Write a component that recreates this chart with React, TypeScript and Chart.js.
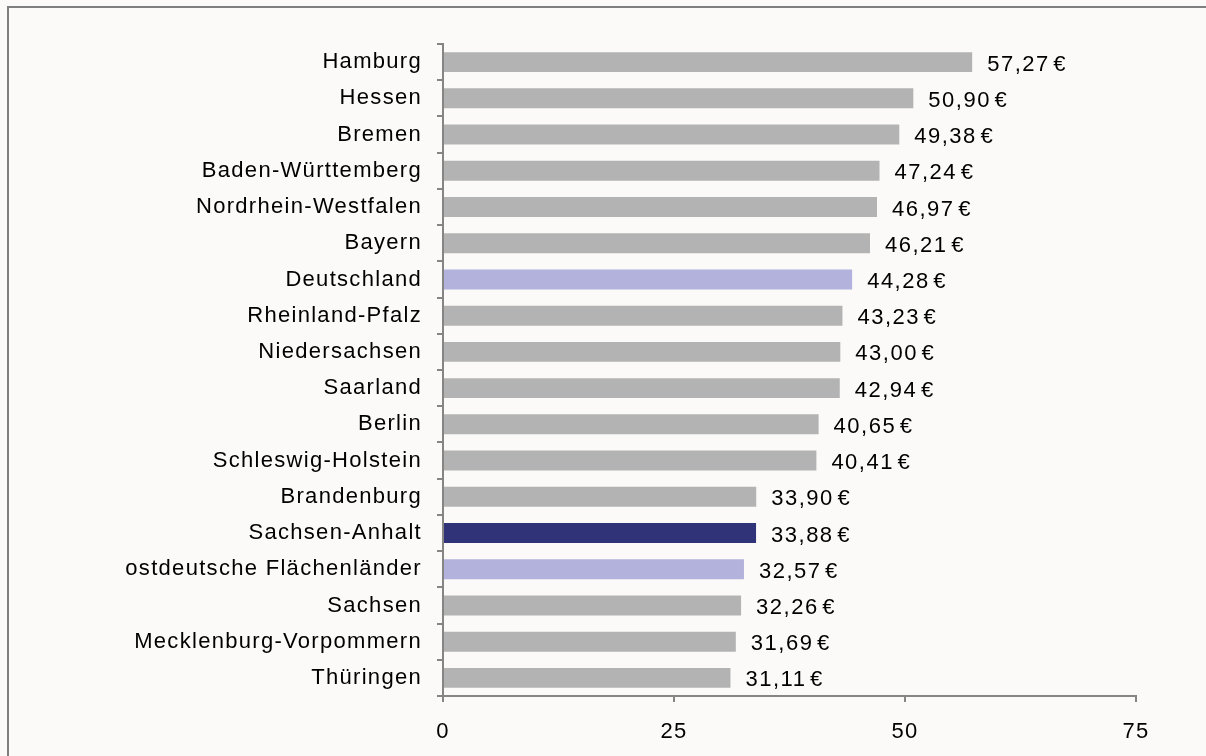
import React, { useEffect, useRef } from "react";
import { Chart, registerables } from "chart.js";

Chart.register(...registerables);

const categories = [
  "Hamburg",
  "Hessen",
  "Bremen",
  "Baden-Württemberg",
  "Nordrhein-Westfalen",
  "Bayern",
  "Deutschland",
  "Rheinland-Pfalz",
  "Niedersachsen",
  "Saarland",
  "Berlin",
  "Schleswig-Holstein",
  "Brandenburg",
  "Sachsen-Anhalt",
  "ostdeutsche Flächenländer",
  "Sachsen",
  "Mecklenburg-Vorpommern",
  "Thüringen",
];

const values = [
  57.27, 50.9, 49.38, 47.24, 46.97, 46.21, 44.28, 43.23, 43.0, 42.94, 40.65,
  40.41, 33.9, 33.88, 32.57, 32.26, 31.69, 31.11,
];

const xTicks = [0, 25, 50, 75];

const GRAY = "#b3b3b3";
const LAVENDER = "#b2b2dc";
const NAVY = "#313379";

const barColors = categories.map((c) =>
  c === "Sachsen-Anhalt"
    ? NAVY
    : c === "Deutschland" || c === "ostdeutsche Flächenländer"
    ? LAVENDER
    : GRAY
);

const FONT = "'Liberation Sans', Arial, sans-serif";
const LS = "1.3px";

const spacingPlugin = {
  id: "spacing",
  beforeUpdate(chart: any) {
    chart.ctx.letterSpacing = LS;
  },
  beforeLayout(chart: any) {
    chart.ctx.letterSpacing = LS;
  },
  beforeDraw(chart: any) {
    const ctx = chart.ctx;
    ctx.save();
    ctx.fillStyle = "#fbfaf8";
    ctx.fillRect(0, 0, chart.width, chart.height);
    ctx.fillStyle = "#7f7f7f";
    ctx.fillRect(7, 6, 2, chart.height - 6);
    ctx.fillRect(7, 6, chart.width - 7, 2);
    ctx.restore();
    ctx.letterSpacing = LS;
  },
};

const valueLabelPlugin = {
  id: "valueLabels",
  afterDatasetsDraw(chart: any) {
    const ctx = chart.ctx;
    const meta = chart.getDatasetMeta(0);
    ctx.save();
    ctx.font = `22px ${FONT}`;
    ctx.fillStyle = "#000";
    ctx.textAlign = "left";
    ctx.textBaseline = "alphabetic";
    ctx.letterSpacing = "1.5px";
    ctx.wordSpacing = "-4px";
    meta.data.forEach((bar: any, i: number) => {
      const v = values[i];
      const txt = v.toFixed(2).replace(".", ",") + " €";
      ctx.fillText(txt, bar.x + 15, bar.y + 8.5);
    });
    ctx.restore();
  },
};

export default function App() {
  const ref = useRef<HTMLCanvasElement | null>(null);

  useEffect(() => {
    if (!ref.current) return;
    const chart = new Chart(ref.current, {
      type: "bar",
      data: {
        labels: categories,
        datasets: [
          {
            data: values,
            backgroundColor: barColors,
            borderWidth: 0,
            barPercentage: 0.55,
            categoryPercentage: 1,
          },
        ],
      },
      options: {
        indexAxis: "y",
        animation: false,
        responsive: false,
        maintainAspectRatio: false,
        layout: { padding: { top: 44, right: 70, left: 0, bottom: 0 } },
        plugins: {
          legend: { display: false },
          tooltip: { enabled: false },
        },
        scales: {
          x: {
            min: 0,
            max: 75,
            afterBuildTicks(scale: any) {
              scale.ticks = xTicks.map((v) => ({ value: v }));
            },
            afterFit(scale: any) {
              scale.height = 60;
            },
            border: { display: true, color: "#858585", width: 2 },
            grid: {
              display: true,
              drawOnChartArea: false,
              drawTicks: true,
              tickLength: 6,
              color: "#858585",
              lineWidth: 2,
            },
            ticks: {
              color: "#000",
              font: { family: FONT, size: 22 },
              padding: 17,
              maxRotation: 0,
            },
          },
          y: {
            afterFit(scale: any) {
              scale.width = 443;
            },
            border: { display: true, color: "#858585", width: 2 },
            grid: {
              display: true,
              offset: true,
              drawOnChartArea: false,
              drawTicks: true,
              tickLength: 6,
              color: "#858585",
              lineWidth: 2,
            },
            ticks: {
              color: "#000",
              font: { family: FONT, size: 22 },
              padding: 15,
              autoSkip: false,
            },
          },
        },
      },
      plugins: [spacingPlugin, valueLabelPlugin],
    });
    return () => chart.destroy();
  }, []);

  return (
    <div
      style={{
        position: "fixed",
        left: 0,
        top: 0,
        width: 1206,
        height: 756,
        background: "#fbfaf8",
        overflow: "hidden",
      }}
    >
      <canvas
        ref={ref}
        width={1206}
        height={756}
        style={{ position: "absolute", left: 0, top: 0, width: 1206, height: 756 }}
      />
    </div>
  );
}
